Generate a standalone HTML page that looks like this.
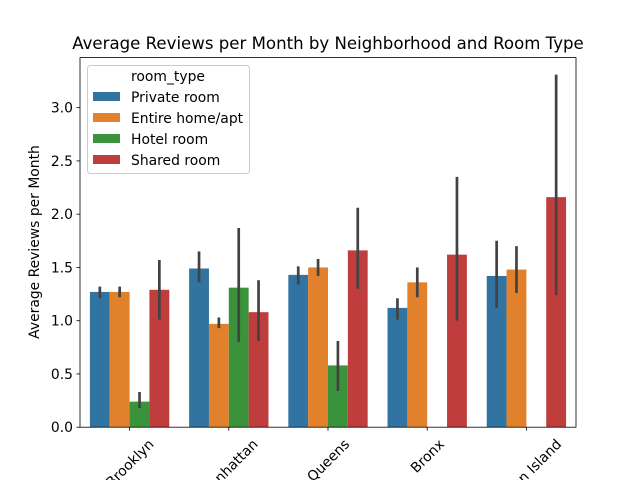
<!DOCTYPE html>
<html><head><meta charset="utf-8"><style>
html,body{margin:0;background:#fff;width:640px;height:480px;overflow:hidden}
svg{font-family:"DejaVu Sans","Liberation Sans",sans-serif;display:block}
</style></head><body>
<svg id="c" width="640" height="480" xmlns="http://www.w3.org/2000/svg" style="overflow:hidden"></svg>
<script>
const categories=["Brooklyn","Manhattan","Queens","Bronx","Staten Island"];
const roomTypes=["Private room","Entire home/apt","Hotel room","Shared room"];
const privateVals=[1.27,1.49,1.43,1.12,1.42];
const privateLo=[1.21,1.36,1.34,1.01,1.12];
const privateHi=[1.32,1.65,1.51,1.21,1.75];
const entireVals=[1.27,0.97,1.50,1.36,1.48];
const entireLo=[1.22,0.93,1.42,1.22,1.26];
const entireHi=[1.32,1.03,1.58,1.50,1.70];
const hotelVals=[0.24,1.31,0.58,null,null];
const hotelLo=[0.18,0.80,0.34,null,null];
const hotelHi=[0.33,1.87,0.81,null,null];
const sharedVals=[1.29,1.08,1.66,1.62,2.16];
const sharedLo=[1.01,0.81,1.30,1.00,1.24];
const sharedHi=[1.57,1.38,2.06,2.35,3.31];
const yTicks=[0,0.5,1.0,1.5,2.0,2.5,3.0];
const yTickLabels=["0.0","0.5","1.0","1.5","2.0","2.5","3.0"];

const colors=["#3274a1","#e1812c","#3a923a","#c03d3e"];
const series=[[privateVals,privateLo,privateHi],[entireVals,entireLo,entireHi],[hotelVals,hotelLo,hotelHi],[sharedVals,sharedLo,sharedHi]];
const L=80,R=576,T=57.6,B=427.2,yMax=3.47;
const FS=13.9;
const y=v=>B-(v/yMax)*(B-T);
const step=(R-L)/categories.length;
const xc=i=>L+step*(i+0.5);
const bw=step*0.8/4;
const NS="http://www.w3.org/2000/svg";
const svg=document.getElementById('c');
function el(t,a,txt){const e=document.createElementNS(NS,t);for(const k in a)e.setAttribute(k,a[k]);if(txt!=null)e.textContent=txt;svg.appendChild(e);return e;}

series.forEach((s,j)=>{
  s[0].forEach((v,i)=>{
    if(v==null)return;
    const x0=xc(i)-step*0.4+j*bw;
    const r=el('rect',{x:x0,y:y(v),width:bw,height:B-y(v),fill:colors[j]});
    
    
    const e=el('line',{x1:x0+bw/2,x2:x0+bw/2,y1:y(s[1][i]),y2:y(s[2][i]),stroke:"#424242","stroke-width":2.7});
    
    
  });
});
const ax=el('rect',{x:L,y:T,width:R-L,height:B-T,fill:"none",stroke:"#000","stroke-width":0.8});


yTicks.forEach((t,i)=>{
  el('line',{x1:L-3.5,x2:L,y1:y(t),y2:y(t),stroke:"#000","stroke-width":0.8});
  const tx=el('text',{x:L-7,y:y(t)+5,"text-anchor":"end","font-size":FS},yTickLabels[i]);
  
  
});
categories.forEach((c,i)=>{
  el('line',{x1:xc(i),x2:xc(i),y1:B,y2:B+3.5,stroke:"#000","stroke-width":0.8});
  const tx=el('text',{x:0,y:0,"text-anchor":"middle","font-size":FS},c);
  
  
  const w=tx.getComputedTextLength();
  const h=15;
  const cy=B+9+(w+h)*0.3536;
  tx.setAttribute('x',xc(i));
  tx.setAttribute('y',cy+5);
  tx.setAttribute('transform',`rotate(-45 ${xc(i)} ${cy})`);
});
const yl=el('text',{x:39,y:242,"text-anchor":"middle","font-size":FS,transform:"rotate(-90 39 242)"},"Average Reviews per Month");


const ti=el('text',{x:328,y:49,"text-anchor":"middle","font-size":"16.6"},"Average Reviews per Month by Neighborhood and Room Type");


const lg=el('rect',{x:87.5,y:65.5,width:162,height:108,rx:3,fill:"#fff","fill-opacity":0.8,stroke:"#ccc"});


const lt=el('text',{x:168,y:81,"text-anchor":"middle","font-size":FS},"room_type");


roomTypes.forEach((r,j)=>{
  const yy=92+j*21;
  el('rect',{x:93,y:yy,width:27,height:9,fill:colors[j]});
  const t=el('text',{x:131,y:yy+10,"font-size":FS},r);
  
  
});
</script>
</body></html>
